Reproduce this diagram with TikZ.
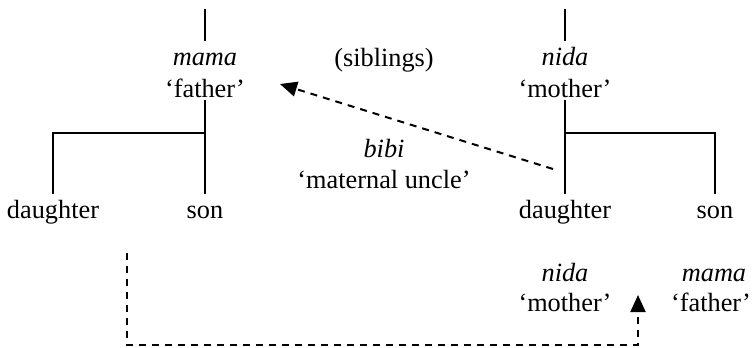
\documentclass[tikz,border=0pt]{standalone}
\usepackage{fontspec}
\setmainfont{Liberation Serif}
\usepackage{tikz}
\usetikzlibrary{arrows.meta}

\tikzset{
  kin/.style={font=\fontsize{26.3}{30}\selectfont, anchor=base,
    text height=21pt, text depth=0pt, inner xsep=2pt, inner ysep=3pt},
  tree/.style={line width=2pt},
  link/.style={line width=2pt, dash pattern=on 7pt off 6pt,
    -{Triangle[length=17pt,width=15pt]}}
}

\begin{document}
\begin{tikzpicture}[x=1pt,y=-1pt]
      \useasboundingbox (0,0) rectangle (753,348);
      % father's side
      \coordinate (ftop) at (205,9);
      \node[kin] (fa) at (205,65) {\textit{mama}};
      \node[kin] (fagl) at (205,97) {`father'};
      \node[kin] (fd) at (53,218) {daughter};
      \node[kin] (fs) at (205,218) {son};
      \coordinate (fj) at (205,133);
      \draw[tree] (ftop) -- (fa.north);
      \draw[tree] (fagl.south) -- (fs.north);
      \draw[tree] (fj) -| (fd.north);
      % mother's side
      \coordinate (mtop) at (565,9);
      \node[kin] (mo) at (565,65) {\textit{nida}};
      \node[kin] (mogl) at (565,97) {`mother'};
      \node[kin] (md) at (565,218) {daughter};
      \node[kin] (ms) at (715,218) {son};
      \coordinate (mj) at (565,133);
      \draw[tree] (mtop) -- (mo.north);
      \draw[tree] (mogl.south) -- (md.north);
      \draw[tree] (mj) -| (ms.north);
      \node[kin] (sib) at (384,66) {(siblings)};
      % what the daughter calls them
      \node[kin] (bi) at (384,157) {\textit{bibi}};
      \node[kin] (bigl) at (384,188) {`maternal uncle'};
      \coordinate (u0) at (553,169);
      \coordinate (u1) at (280,84);
      \draw[link] (u0) -- (u1);
      \node[kin] (ni) at (565,281) {\textit{nida}};
      \node[kin] (nigl) at (565,311) {`mother'};
      \node[kin] (ma) at (714,281) {\textit{mama}};
      \node[kin] (magl) at (711,311) {`father'};
      \coordinate (b0) at (127,253);
      \coordinate (b1) at (638,295);
      \draw[link] (b0) -- ++(0,92) -| (b1);
\end{tikzpicture}
\end{document}
